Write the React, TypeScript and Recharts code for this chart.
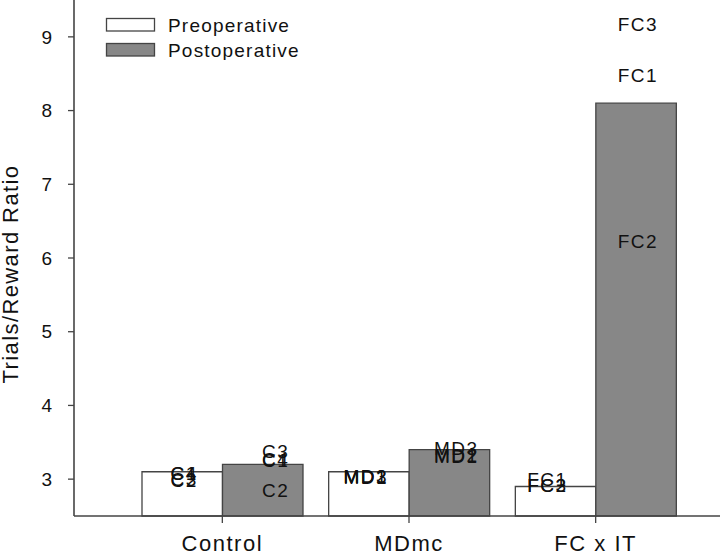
import { ComposedChart, Bar, XAxis, YAxis, Legend, ReferenceDot } from 'recharts';

const groups = ['Control', 'MDmc', 'FC x IT'];
const preMeans = [3.1, 3.1, 2.9];
const postMeans = [3.2, 3.4, 8.1];
const yTicks = [3, 4, 5, 6, 7, 8, 9];

// individual animals, per group
const controlIds = ['C1', 'C2', 'C3', 'C4'];
const controlPre = [3.07, 2.98, 2.99, 3.08];
const controlPost = [3.25, 2.85, 3.37, 3.26];
const mdIds = ['MD1', 'MD2', 'MD3'];
const mdPre = [3.02, 3.03, 3.03];
const mdPost = [3.31, 3.32, 3.42];
const fcIds = ['FC1', 'FC2', 'FC3'];
const fcPre = [3.0, 2.91, 2.92];
const fcPost = [8.48, 6.22, 9.17];

const subjects = [
  { group: 'Control', ids: controlIds, pre: controlPre, post: controlPost },
  { group: 'MDmc', ids: mdIds, pre: mdPre, post: mdPost },
  { group: 'FC x IT', ids: fcIds, pre: fcPre, post: fcPost },
];

const data = groups.map((g, i) => ({ name: g, pre: preMeans[i], post: postMeans[i] }));

const BAR = 80.5;
const INK = '#111';
const LINE = '#444';
const GREY = '#878787';
const FONT = '"Liberation Sans", Arial, sans-serif';

// small horizontal nudges of the animal labels, relative to the bar centre
const NUDGE: Record<string, { pre: number; post: number }> = {
  Control: { pre: 2, post: 13 },
  MDmc: { pre: -3, post: 7 },
  'FC x IT': { pre: -8, post: 2 },
};

function makeLabel(text: string, dx: number) {
  return (p: { cx?: number; cy?: number }) => (
    <text
      x={(p.cx ?? 0) + dx}
      y={p.cy ?? 0}
      textAnchor="middle"
      dominantBaseline="central"
      fontFamily={FONT}
      fontSize={19}
      letterSpacing={1.5}
      fill={INK}
    >
      {text}
    </text>
  );
}

function LegendBox() {
  const rows = [
    { label: 'Preoperative', fill: '#fff' },
    { label: 'Postoperative', fill: GREY },
  ];
  return (
    <svg width={220} height={50} style={{ display: 'block' }}>
      {rows.map((r, i) => (
        <g key={r.label}>
          <rect x={6.5} y={8.5 + i * 25} width={48} height={12.5} fill={r.fill} stroke={LINE} strokeWidth={1.3} />
          <text x={68} y={21.5 + i * 25} fontFamily={FONT} fontSize={19} letterSpacing={1.2} fill={INK}>
            {r.label}
          </text>
        </g>
      ))}
    </svg>
  );
}

function YTitle() {
  return (
    <text
      transform="translate(18,274) rotate(-90)"
      textAnchor="middle"
      fontFamily={FONT}
      fontSize={22}
      letterSpacing={1.4}
      fill={INK}
    >
      Trials/Reward Ratio
    </text>
  );
}

export default function App() {
  return (
    <div style={{ position: 'absolute', left: 0, top: 0, width: 720, height: 553, background: '#fff' }}>
      <ComposedChart width={720} height={553} data={data} margin={{ top: 0, right: 0, left: 0, bottom: 0 }} barGap={0}>
        <XAxis
          dataKey="name"
          type="category"
          padding={{ left: 55, right: 31 }}
          height={37}
          tickSize={7}
          tickMargin={12}
          axisLine={{ stroke: LINE, strokeWidth: 1.6 }}
          tickLine={{ stroke: LINE, strokeWidth: 1.3 }}
          tick={{ fill: INK, fontSize: 22, fontFamily: FONT, letterSpacing: 1.5 }}
        />
        <YAxis
          type="number"
          domain={[2.5, 9.5]}
          ticks={yTicks}
          width={74}
          tickSize={6}
          tickMargin={16}
          axisLine={{ stroke: LINE, strokeWidth: 1.6 }}
          tickLine={{ stroke: LINE, strokeWidth: 1.3 }}
          tick={{ fill: INK, fontSize: 19, fontFamily: FONT }}
          label={{ content: () => <YTitle /> }}
        />
        <Legend
          layout="horizontal"
          verticalAlign="middle"
          align="center"
          wrapperStyle={{ left: 100, top: 10, width: 220, height: 50 }}
          content={() => <LegendBox />}
        />
        <Bar dataKey="pre" name="Preoperative" fill="#fff" stroke={LINE} strokeWidth={1.3} barSize={BAR} isAnimationActive={false} />
        <Bar dataKey="post" name="Postoperative" fill={GREY} stroke={LINE} strokeWidth={1.3} barSize={BAR} isAnimationActive={false} />
        {subjects.flatMap(s =>
          s.ids.flatMap((id, i) => [
            <ReferenceDot
              key={`${id}-pre`}
              x={s.group}
              y={s.pre[i]}
              r={0}
              shape={makeLabel(id, -BAR / 2 + NUDGE[s.group].pre)}
            />,
            <ReferenceDot
              key={`${id}-post`}
              x={s.group}
              y={s.post[i]}
              r={0}
              shape={makeLabel(id, BAR / 2 + NUDGE[s.group].post)}
            />,
          ])
        )}
      </ComposedChart>
    </div>
  );
}
